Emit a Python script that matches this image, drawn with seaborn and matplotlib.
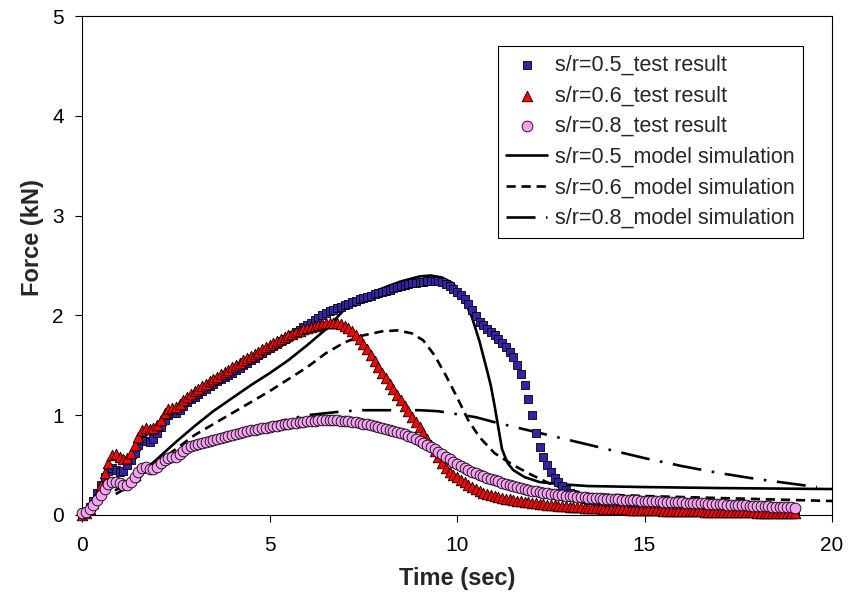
import numpy as np
import matplotlib
matplotlib.use("Agg")
import matplotlib.pyplot as plt
import seaborn as sns

# ---------------- data ----------------
# test results sampled every 0.1 s from 0 to 19 s
test_time = np.round(np.arange(0, 19.01, 0.1), 1)

force_05_test = [
    0.00, 0.03, 0.08, 0.14, 0.22, 0.30, 0.38, 0.44, 0.47, 0.45,
    0.43, 0.44, 0.50, 0.55, 0.62, 0.70, 0.75, 0.74, 0.73, 0.76,
    0.82, 0.88, 0.95, 1.00, 1.02, 1.02, 1.05, 1.09, 1.13, 1.16,
    1.18, 1.21, 1.24, 1.26, 1.29, 1.31, 1.34, 1.36, 1.38, 1.40,
    1.42, 1.45, 1.47, 1.50, 1.52, 1.55, 1.57, 1.60, 1.62, 1.65,
    1.67, 1.69, 1.71, 1.74, 1.76, 1.78, 1.80, 1.83, 1.85, 1.88,
    1.90, 1.92, 1.95, 1.97, 2.00, 2.02, 2.04, 2.05, 2.07, 2.08,
    2.10, 2.11, 2.13, 2.14, 2.16, 2.17, 2.18, 2.19, 2.21, 2.22,
    2.23, 2.24, 2.25, 2.27, 2.28, 2.29, 2.30, 2.31, 2.32, 2.32,
    2.33, 2.33, 2.34, 2.34, 2.34, 2.34, 2.33, 2.31, 2.29, 2.26,
    2.23, 2.20, 2.16, 2.11, 2.05, 1.99, 1.93, 1.90, 1.86, 1.83,
    1.80, 1.76, 1.72, 1.68, 1.63, 1.58, 1.50, 1.41, 1.30, 1.16,
    1.00, 0.82, 0.68, 0.58, 0.50, 0.43, 0.37, 0.33, 0.29, 0.25,
    0.22, 0.20, 0.18, 0.17, 0.16, 0.15, 0.15, 0.14, 0.14, 0.13,
    0.13, 0.13, 0.12, 0.12, 0.12, 0.11, 0.11, 0.11, 0.11, 0.10,
    0.10, 0.10, 0.10, 0.10, 0.09, 0.09, 0.09, 0.09, 0.09, 0.08,
    0.08, 0.08, 0.08, 0.08, 0.08, 0.07, 0.07, 0.07, 0.07, 0.07,
    0.07, 0.07, 0.06, 0.06, 0.06, 0.06, 0.06, 0.06, 0.06, 0.06,
    0.05, 0.05, 0.05, 0.05, 0.05, 0.05, 0.05, 0.05, 0.05, 0.04,
    0.04,
]

force_06_test = [
    0.00, 0.02, 0.06, 0.12, 0.20, 0.30, 0.42, 0.52, 0.60, 0.61,
    0.58, 0.56, 0.57, 0.62, 0.70, 0.78, 0.85, 0.87, 0.86, 0.87,
    0.90, 0.95, 1.02, 1.06, 1.07, 1.08, 1.11, 1.15, 1.18, 1.21,
    1.24, 1.26, 1.29, 1.31, 1.34, 1.36, 1.38, 1.41, 1.43, 1.45,
    1.48, 1.50, 1.52, 1.55, 1.57, 1.59, 1.61, 1.63, 1.66, 1.68,
    1.70, 1.72, 1.74, 1.76, 1.78, 1.80, 1.81, 1.83, 1.84, 1.86,
    1.87, 1.88, 1.89, 1.90, 1.91, 1.92, 1.92, 1.92, 1.92, 1.91,
    1.89, 1.87, 1.84, 1.80, 1.76, 1.71, 1.66, 1.60, 1.54, 1.48,
    1.42, 1.37, 1.31, 1.26, 1.20, 1.15, 1.09, 1.04, 0.98, 0.93,
    0.88, 0.82, 0.76, 0.70, 0.64, 0.58, 0.52, 0.47, 0.43, 0.40,
    0.38, 0.35, 0.33, 0.30, 0.28, 0.26, 0.24, 0.22, 0.21, 0.20,
    0.19, 0.18, 0.17, 0.16, 0.16, 0.15, 0.14, 0.14, 0.13, 0.13,
    0.12, 0.12, 0.11, 0.11, 0.10, 0.10, 0.10, 0.09, 0.09, 0.09,
    0.08, 0.08, 0.08, 0.08, 0.07, 0.07, 0.07, 0.07, 0.07, 0.06,
    0.06, 0.06, 0.06, 0.06, 0.06, 0.06, 0.05, 0.05, 0.05, 0.05,
    0.05, 0.05, 0.05, 0.05, 0.05, 0.04, 0.04, 0.04, 0.04, 0.04,
    0.04, 0.04, 0.04, 0.04, 0.04, 0.04, 0.03, 0.03, 0.03, 0.03,
    0.03, 0.03, 0.03, 0.03, 0.03, 0.03, 0.03, 0.03, 0.03, 0.03,
    0.02, 0.02, 0.02, 0.02, 0.02, 0.02, 0.02, 0.02, 0.02, 0.02,
    0.02,
]

force_08_test = [
    0.02, 0.03, 0.06, 0.10, 0.15, 0.20, 0.26, 0.31, 0.33, 0.33,
    0.32, 0.30, 0.30, 0.33, 0.38, 0.43, 0.47, 0.48, 0.46, 0.46,
    0.48, 0.52, 0.55, 0.57, 0.58, 0.58, 0.61, 0.64, 0.67, 0.69,
    0.70, 0.71, 0.72, 0.73, 0.74, 0.75, 0.76, 0.77, 0.78, 0.79,
    0.80, 0.81, 0.82, 0.83, 0.84, 0.85, 0.85, 0.86, 0.87, 0.87,
    0.88, 0.89, 0.89, 0.90, 0.91, 0.91, 0.92, 0.92, 0.93, 0.93,
    0.94, 0.94, 0.94, 0.95, 0.95, 0.95, 0.95, 0.95, 0.95, 0.94,
    0.94, 0.94, 0.93, 0.93, 0.92, 0.91, 0.91, 0.90, 0.89, 0.88,
    0.87, 0.86, 0.85, 0.84, 0.83, 0.82, 0.81, 0.79, 0.78, 0.76,
    0.74, 0.72, 0.70, 0.68, 0.66, 0.63, 0.61, 0.58, 0.56, 0.53,
    0.51, 0.49, 0.47, 0.45, 0.43, 0.42, 0.40, 0.39, 0.37, 0.36,
    0.35, 0.34, 0.32, 0.31, 0.30, 0.29, 0.28, 0.27, 0.26, 0.25,
    0.24, 0.24, 0.23, 0.22, 0.22, 0.21, 0.21, 0.20, 0.20, 0.19,
    0.19, 0.19, 0.18, 0.18, 0.18, 0.17, 0.17, 0.17, 0.17, 0.16,
    0.16, 0.16, 0.16, 0.16, 0.15, 0.15, 0.15, 0.15, 0.15, 0.14,
    0.14, 0.14, 0.14, 0.14, 0.14, 0.13, 0.13, 0.13, 0.13, 0.13,
    0.13, 0.12, 0.12, 0.12, 0.12, 0.12, 0.12, 0.11, 0.11, 0.11,
    0.11, 0.11, 0.10, 0.10, 0.10, 0.10, 0.10, 0.10, 0.09, 0.09,
    0.09, 0.09, 0.09, 0.09, 0.08, 0.08, 0.08, 0.08, 0.08, 0.08,
    0.07,
]

# model simulations
model_05_time = [0.9, 1.2, 1.6, 2.0, 2.5, 3.0, 3.5, 4.0, 4.5, 5.0, 5.5, 6.0, 6.5,
                 7.0, 7.5, 8.0, 8.5, 9.0, 9.3, 9.6, 9.9, 10.2, 10.4, 10.6, 10.8,
                 10.9, 11.0, 11.1, 11.2, 11.35, 11.5, 11.8, 12.2, 12.7, 13.5,
                 15.0, 17.0, 20.0]
model_05_force = [0.25, 0.32, 0.43, 0.56, 0.73, 0.89, 1.04, 1.17, 1.30, 1.42, 1.55,
                  1.70, 1.86, 2.06, 2.18, 2.27, 2.34, 2.39, 2.40, 2.38, 2.32, 2.15,
                  1.98, 1.74, 1.45, 1.30, 1.10, 0.88, 0.66, 0.52, 0.45, 0.38, 0.33,
                  0.31, 0.29, 0.28, 0.27, 0.26]

model_06_time = [1.0, 1.5, 2.0, 2.5, 3.0, 3.5, 4.0, 4.5, 5.0, 5.5, 6.0, 6.5, 7.0,
                 7.5, 8.0, 8.4, 8.8, 9.1, 9.4, 9.7, 10.0, 10.3, 10.6, 11.0, 11.5,
                 12.0, 12.5, 13.0, 13.5, 15.0, 17.0, 20.0]
model_06_force = [0.25, 0.38, 0.52, 0.66, 0.80, 0.91, 1.02, 1.13, 1.24, 1.36, 1.48,
                  1.62, 1.73, 1.80, 1.84, 1.85, 1.82, 1.75, 1.60, 1.40, 1.18, 0.95,
                  0.78, 0.62, 0.50, 0.40, 0.31, 0.25, 0.21, 0.19, 0.17, 0.14]

model_08_time = [0.9, 1.5, 2.0, 2.5, 3.0, 3.5, 4.0, 4.5, 5.0, 5.5, 6.0, 6.5, 7.0,
                 7.5, 8.0, 8.5, 9.0, 9.5, 10.0, 10.5, 11.0, 12.0, 13.0, 14.0,
                 15.0, 16.0, 17.0, 18.0, 19.0, 19.6]
model_08_force = [0.21, 0.34, 0.45, 0.56, 0.66, 0.74, 0.81, 0.87, 0.91, 0.96, 1.00,
                  1.02, 1.04, 1.05, 1.05, 1.05, 1.05, 1.04, 1.01, 0.98, 0.93, 0.84,
                  0.75, 0.66, 0.57, 0.49, 0.42, 0.36, 0.31, 0.28]

labels_test = ["s/r=0.5_test result", "s/r=0.6_test result", "s/r=0.8_test result"]
labels_model = ["s/r=0.5_model simulation", "s/r=0.6_model simulation",
                "s/r=0.8_model simulation"]
x_ticks = [0, 5, 10, 15, 20]
y_ticks = [0, 1, 2, 3, 4, 5]

# ---------------- style ----------------
sns.set_style("ticks")
plt.rcParams['font.family'] = ['Liberation Sans', 'DejaVu Sans']

W, H = 849, 603
fig = plt.figure(figsize=(W / 100, H / 100), dpi=100)
ax = fig.add_axes([82 / W, 1 - 515 / H, (832 - 82) / W, (515 - 16) / H])

LW = 1.9
sns.lineplot(x=model_05_time, y=model_05_force, ax=ax, color="black", lw=LW,
             label=labels_model[0], sort=False, estimator=None, zorder=2)
sns.lineplot(x=model_06_time, y=model_06_force, ax=ax, color="black", lw=LW,
             linestyle=(0, (3.5, 2.2)), label=labels_model[1], sort=False,
             estimator=None, zorder=2)
sns.lineplot(x=model_08_time, y=model_08_force, ax=ax, color="black", lw=LW,
             linestyle=(0, (11, 4, 1, 4)), label=labels_model[2], sort=False,
             estimator=None, zorder=2)

sns.scatterplot(x=test_time, y=force_05_test, ax=ax, marker="s", s=36,
                color="#3322AA", edgecolor="black", linewidth=0.6,
                label=labels_test[0], zorder=3, clip_on=False)
sns.scatterplot(x=test_time, y=force_06_test, ax=ax, marker="^", s=58,
                color="#FF0000", edgecolor="black", linewidth=0.6,
                label=labels_test[1], zorder=4, clip_on=False)
sns.scatterplot(x=test_time, y=force_08_test, ax=ax, marker="o", s=60,
                color="#F7A1F2", edgecolor="black", linewidth=0.6,
                label=labels_test[2], zorder=5, clip_on=False)

ax.set_xlim(0, 20)
ax.set_ylim(0, 5)
ax.set_xticks(x_ticks)
ax.set_yticks(y_ticks)
ax.grid(False)
for sp in ax.spines.values():
    sp.set_linewidth(0.8)
    sp.set_color("black")
ax.tick_params(axis="both", direction="out", length=5, width=0.8,
               labelsize=15, colors="black")
ax.tick_params(axis="x", pad=10)
ax.tick_params(axis="y", pad=8)
ax.set_xlabel("Time (sec)", fontsize=17, fontweight="bold")
ax.set_ylabel("Force (kN)", fontsize=17, fontweight="bold")
ax.xaxis.set_label_coords(0.5, -(578 - 515) / (515 - 16), transform=ax.transAxes)
ax.xaxis.label.set_va("center")
ax.yaxis.set_label_coords(-(82 - 32) / (832 - 82), (515 - 238) / (515 - 16),
                          transform=ax.transAxes)
ax.yaxis.label.set_va("center")

handles, labels = ax.get_legend_handles_labels()
order = labels_test + labels_model
hmap = dict(zip(labels, handles))
leg = ax.legend([hmap[l] for l in order], order, loc="upper right",
                bbox_to_anchor=(803 / W, 1 - 46 / H), bbox_transform=fig.transFigure,
                borderaxespad=0, frameon=True, fancybox=False, edgecolor="black",
                framealpha=1, fontsize=15.5, handlelength=1.9, handletextpad=0.35,
                labelspacing=0.45, scatterpoints=1, borderpad=0.4)
leg.get_frame().set_linewidth(0.8)

fig.savefig("out.png", dpi=100)
